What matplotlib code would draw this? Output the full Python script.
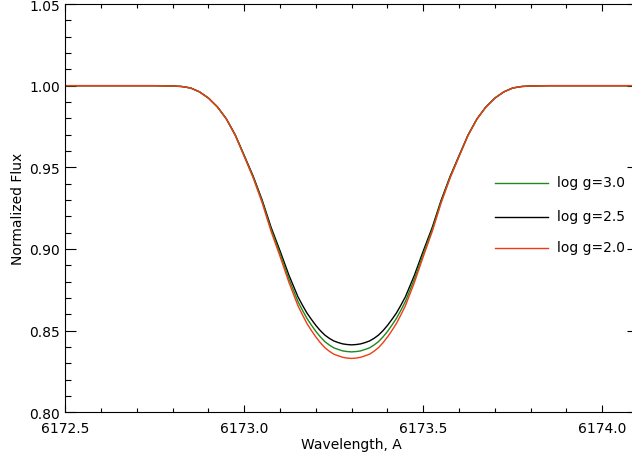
import matplotlib
matplotlib.use("Agg")
import matplotlib.pyplot as plt
from matplotlib.ticker import MultipleLocator, FormatStrFormatter

# wavelength grid (A) and normalized flux
wave = [6172.50, 6172.75, 6172.80, 6172.825, 6172.85, 6172.875, 6172.90, 6172.925,
        6172.95, 6172.975, 6173.00, 6173.025, 6173.05, 6173.075, 6173.10, 6173.125,
        6173.15, 6173.1625, 6173.175, 6173.1875, 6173.20, 6173.2125, 6173.225,
        6173.2375, 6173.25, 6173.2625, 6173.275, 6173.2875, 6173.30,
        6173.3125, 6173.325, 6173.3375, 6173.35, 6173.3625, 6173.375, 6173.3875,
        6173.40, 6173.4125, 6173.425, 6173.4375, 6173.45, 6173.475, 6173.50,
        6173.525, 6173.55, 6173.575, 6173.60, 6173.625, 6173.65, 6173.675,
        6173.70, 6173.725, 6173.75, 6173.775, 6173.80, 6173.85, 6174.10]

flux_g25 = [1.0000, 1.0000, 0.9998, 0.9995, 0.9986, 0.9962, 0.9924, 0.9870,
            0.9797, 0.9698, 0.9572, 0.9445, 0.9299, 0.9132, 0.8988, 0.8838,
            0.8707, 0.8656, 0.8608, 0.8569, 0.8532, 0.8500, 0.8473, 0.8453,
            0.8437, 0.8427, 0.8419, 0.8415, 0.8413,
            0.8415, 0.8419, 0.8427, 0.8437, 0.8453, 0.8473, 0.8500,
            0.8532, 0.8569, 0.8608, 0.8656, 0.8707, 0.8838, 0.8988,
            0.9132, 0.9299, 0.9445, 0.9572, 0.9698, 0.9797, 0.9870,
            0.9924, 0.9962, 0.9986, 0.9995, 0.9998, 1.0000, 1.0000]

flux_g30 = [1.0000, 1.0000, 0.9998, 0.9995, 0.9986, 0.9962, 0.9924, 0.9870,
            0.9796, 0.9696, 0.9569, 0.9440, 0.9291, 0.9119, 0.8971, 0.8815,
            0.8678, 0.8625, 0.8575, 0.8534, 0.8495, 0.8462, 0.8433, 0.8412,
            0.8395, 0.8385, 0.8376, 0.8372, 0.8370,
            0.8372, 0.8376, 0.8385, 0.8395, 0.8412, 0.8433, 0.8462,
            0.8495, 0.8534, 0.8575, 0.8625, 0.8678, 0.8815, 0.8971,
            0.9119, 0.9291, 0.9440, 0.9569, 0.9696, 0.9796, 0.9870,
            0.9924, 0.9962, 0.9986, 0.9995, 0.9998, 1.0000, 1.0000]

flux_g20 = [1.0000, 1.0000, 0.9998, 0.9995, 0.9986, 0.9962, 0.9924, 0.9869,
            0.9796, 0.9695, 0.9566, 0.9435, 0.9283, 0.9107, 0.8954, 0.8794,
            0.8652, 0.8597, 0.8544, 0.8501, 0.8461, 0.8426, 0.8396, 0.8374,
            0.8356, 0.8346, 0.8337, 0.8332, 0.8330,
            0.8332, 0.8337, 0.8346, 0.8356, 0.8374, 0.8396, 0.8426,
            0.8461, 0.8501, 0.8544, 0.8597, 0.8652, 0.8794, 0.8954,
            0.9107, 0.9283, 0.9435, 0.9566, 0.9695, 0.9796, 0.9869,
            0.9924, 0.9962, 0.9986, 0.9995, 0.9998, 1.0000, 1.0000]

labels = ["log g=3.0", "log g=2.5", "log g=2.0"]
colors = ["#1c8a1c", "black", "#f03c14"]

fig = plt.figure(figsize=(6.32, 4.56), dpi=100)
ax = fig.add_axes([0.1033, 0.0936, 0.9063, 0.8954])

ax.plot(wave, flux_g25, color=colors[1], lw=1.0)
ax.plot(wave, flux_g30, color=colors[0], lw=1.0)
ax.plot(wave, flux_g20, color=colors[2], lw=1.0)

ax.set_xlim(6172.5, 6174.1)
ax.set_ylim(0.80, 1.05)

ax.xaxis.set_major_locator(MultipleLocator(0.5))
ax.xaxis.set_minor_locator(MultipleLocator(0.1))
ax.xaxis.set_major_formatter(FormatStrFormatter("%.1f"))
ax.yaxis.set_major_locator(MultipleLocator(0.05))
ax.yaxis.set_minor_locator(MultipleLocator(0.01))
ax.yaxis.set_major_formatter(FormatStrFormatter("%.2f"))

ax.tick_params(which="both", direction="in", top=True, right=True,
               width=0.8, labelsize=10)
ax.tick_params(axis="x", which="major", length=5.3, pad=6)
ax.tick_params(axis="x", which="minor", length=3.2)
ax.tick_params(axis="y", which="major", length=8, pad=4)
ax.tick_params(axis="y", which="minor", length=4.3)
for sp in ax.spines.values():
    sp.set_linewidth(0.8)

ax.set_xlabel("Wavelength, A", fontsize=10, labelpad=2)
ax.set_ylabel("Normalized Flux", fontsize=10, labelpad=3)

# hand-made legend, IDL style
leg_y = [0.5616, 0.478, 0.4026]
for yy, lab, col in zip(leg_y, labels, colors):
    ax.plot([0.750, 0.843], [yy, yy], color=col, lw=1.0,
            transform=ax.transAxes)
    ax.text(0.858, yy - 0.007, lab, fontsize=10, va="baseline",
            transform=ax.transAxes)

fig.savefig("out.png", dpi=100)
